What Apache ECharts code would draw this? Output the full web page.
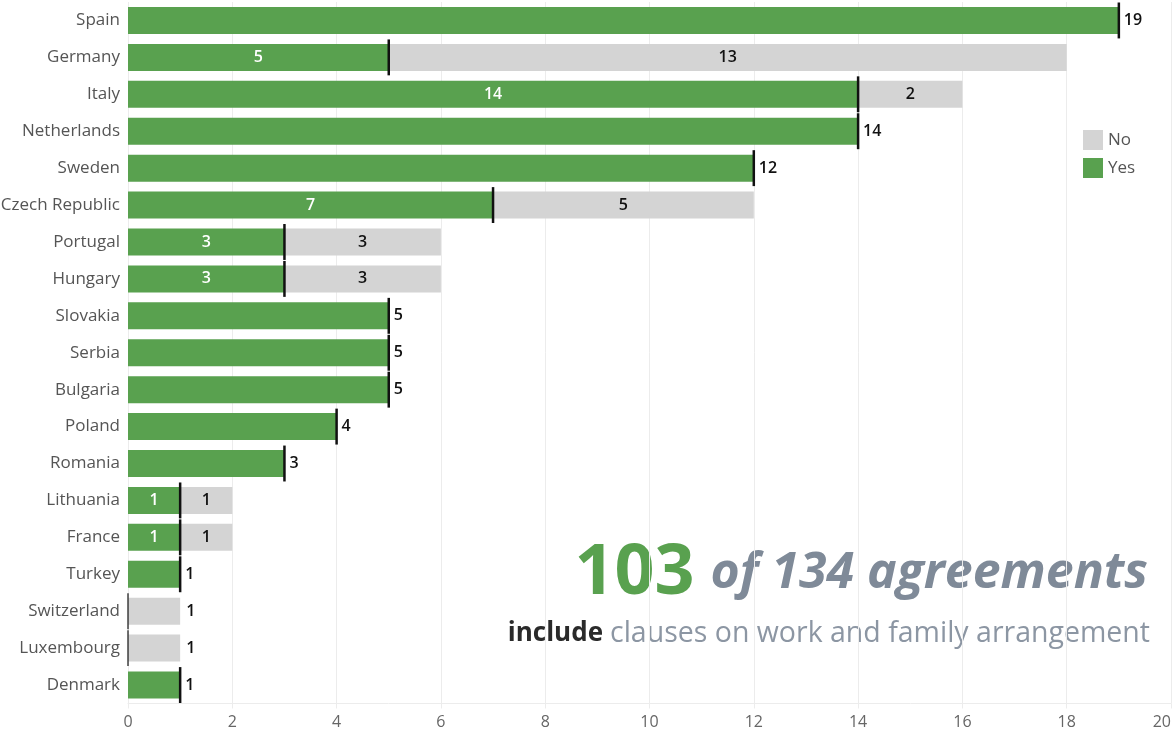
<!DOCTYPE html>
<html>
<head>
<meta charset="utf-8">
<script src="https://cdn.jsdelivr.net/npm/echarts@6/dist/echarts.min.js"></script>
<style>
  html, body { margin: 0; padding: 0; background: #fff; }
  #chart { width: 1172px; height: 735px; }
</style>
</head>
<body>
<div id="chart"></div>
<script>
// Agreements per country with / without work-family clauses
const countries = ['Spain', 'Germany', 'Italy', 'Netherlands', 'Sweden', 'Czech Republic',
  'Portugal', 'Hungary', 'Slovakia', 'Serbia', 'Bulgaria', 'Poland', 'Romania',
  'Lithuania', 'France', 'Turkey', 'Switzerland', 'Luxembourg', 'Denmark'];
const yesValues = [19, 5, 14, 14, 12, 7, 3, 3, 5, 5, 5, 4, 3, 1, 1, 1, 0, 0, 1];
const noValues  = [0, 13, 2, 0, 0, 5, 3, 3, 0, 0, 0, 0, 0, 1, 1, 0, 1, 1, 0];
const xTicks = { min: 0, max: 20, interval: 2 };

const GREEN = '#59a14f';
const GREY = '#d4d4d4';
const FONT = '"Open Sans", "Noto Sans", sans-serif';

const valueFont = { fontFamily: FONT, fontSize: 16, fontWeight: 600 };

const yesData = yesValues.map((v, i) => {
  const hasNo = noValues[i] > 0;
  if (v === 0) return { value: v, label: { show: false } };
  return {
    value: v,
    label: hasNo
      ? Object.assign({ show: true, position: 'inside', color: '#fff', formatter: String(v) }, valueFont)
      : Object.assign({ show: true, position: 'right', distance: 5, color: '#111', formatter: String(v) }, valueFont)
  };
});

const noData = noValues.map((v, i) => {
  if (v === 0) return { value: v, label: { show: false } };
  const hasYes = yesValues[i] > 0;
  return {
    value: v,
    label: hasYes
      ? Object.assign({ show: true, position: 'inside', color: '#111', formatter: String(v) }, valueFont)
      : Object.assign({ show: true, position: 'right', distance: 6, color: '#111', formatter: String(v) }, valueFont)
  };
});

const chart = echarts.init(document.getElementById('chart'), null, { renderer: 'canvas' });

chart.setOption({
  animation: false,
  backgroundColor: '#fff',
  grid: { left: 128, right: 1, top: 2, bottom: 31.5, containLabel: false, outerBoundsMode: 'none' },
  legend: {
    data: ['No', 'Yes'],
    orient: 'vertical',
    left: 1083,
    top: 130,
    padding: 0,
    itemWidth: 20,
    itemHeight: 20,
    itemGap: 8,
    icon: 'rect',
    selectedMode: false,
    textStyle: { fontFamily: FONT, fontSize: 17, color: '#555' }
  },
  xAxis: {
    type: 'value',
    min: xTicks.min,
    max: xTicks.max,
    interval: xTicks.interval,
    axisLine: { show: true, lineStyle: { color: '#ececec' } },
    axisTick: { show: true, length: 5, lineStyle: { color: '#ececec' } },
    splitLine: { show: true, lineStyle: { color: '#ececec', width: 1 } },
    axisLabel: {
      fontFamily: FONT, fontSize: 16, color: '#666', margin: 11,
      alignMaxLabel: 'right'
    }
  },
  yAxis: {
    type: 'category',
    data: countries,
    inverse: true,
    axisLine: { show: false },
    axisTick: { show: false },
    axisLabel: { fontFamily: FONT, fontSize: 17, color: '#555', margin: 8 }
  },
  series: [
    {
      name: 'Yes',
      type: 'bar',
      stack: 'total',
      barWidth: 27,
      itemStyle: { color: GREEN },
      data: yesData,
      z: 2
    },
    {
      name: 'No',
      type: 'bar',
      stack: 'total',
      barWidth: 27,
      itemStyle: { color: GREY },
      data: noData,
      z: 2
    },
    {
      // reference mark at each country's "Yes" count
      type: 'custom',
      name: 'marker',
      z: 5,
      silent: true,
      data: yesValues.map((v, i) => [v, i]),
      encode: { x: 0, y: 1 },
      renderItem: function (params, api) {
        const p = api.coord([api.value(0), api.value(1)]);
        const band = api.size([0, 1])[1];
        const zero = api.value(0) === 0;
        const h = band - 1;
        return {
          type: 'line',
          shape: { x1: p[0], y1: p[1] - h / 2, x2: p[0], y2: p[1] + h / 2 },
          style: { stroke: '#111', lineWidth: zero ? 1.2 : 2.5 }
        };
      }
    }
  ],
  graphic: [
    {
      type: 'text',
      right: 24,
      top: 539,
      style: {
        text: '{a|103}{b|of 134 agreements}',
        rich: {
          a: { fontFamily: FONT, fontSize: 70, fontWeight: 700, fill: GREEN },
          b: { fontFamily: FONT, fontSize: 50, fontWeight: 700, fontStyle: 'italic', fill: '#7f8a98', padding: [0, 0, 0, 16] }
        }
      }
    },
    {
      type: 'text',
      right: 22,
      top: 619,
      style: {
        text: '{a|include}{b|clauses on work and family arrangement}',
        rich: {
          a: { fontFamily: FONT, fontSize: 26, fontWeight: 700, fill: '#2a2a2a' },
          b: { fontFamily: FONT, fontSize: 28.5, fontWeight: 400, fill: '#8c96a3', padding: [0, 0, 0, 7] }
        }
      }
    }
  ]
});
</script>
</body>
</html>
